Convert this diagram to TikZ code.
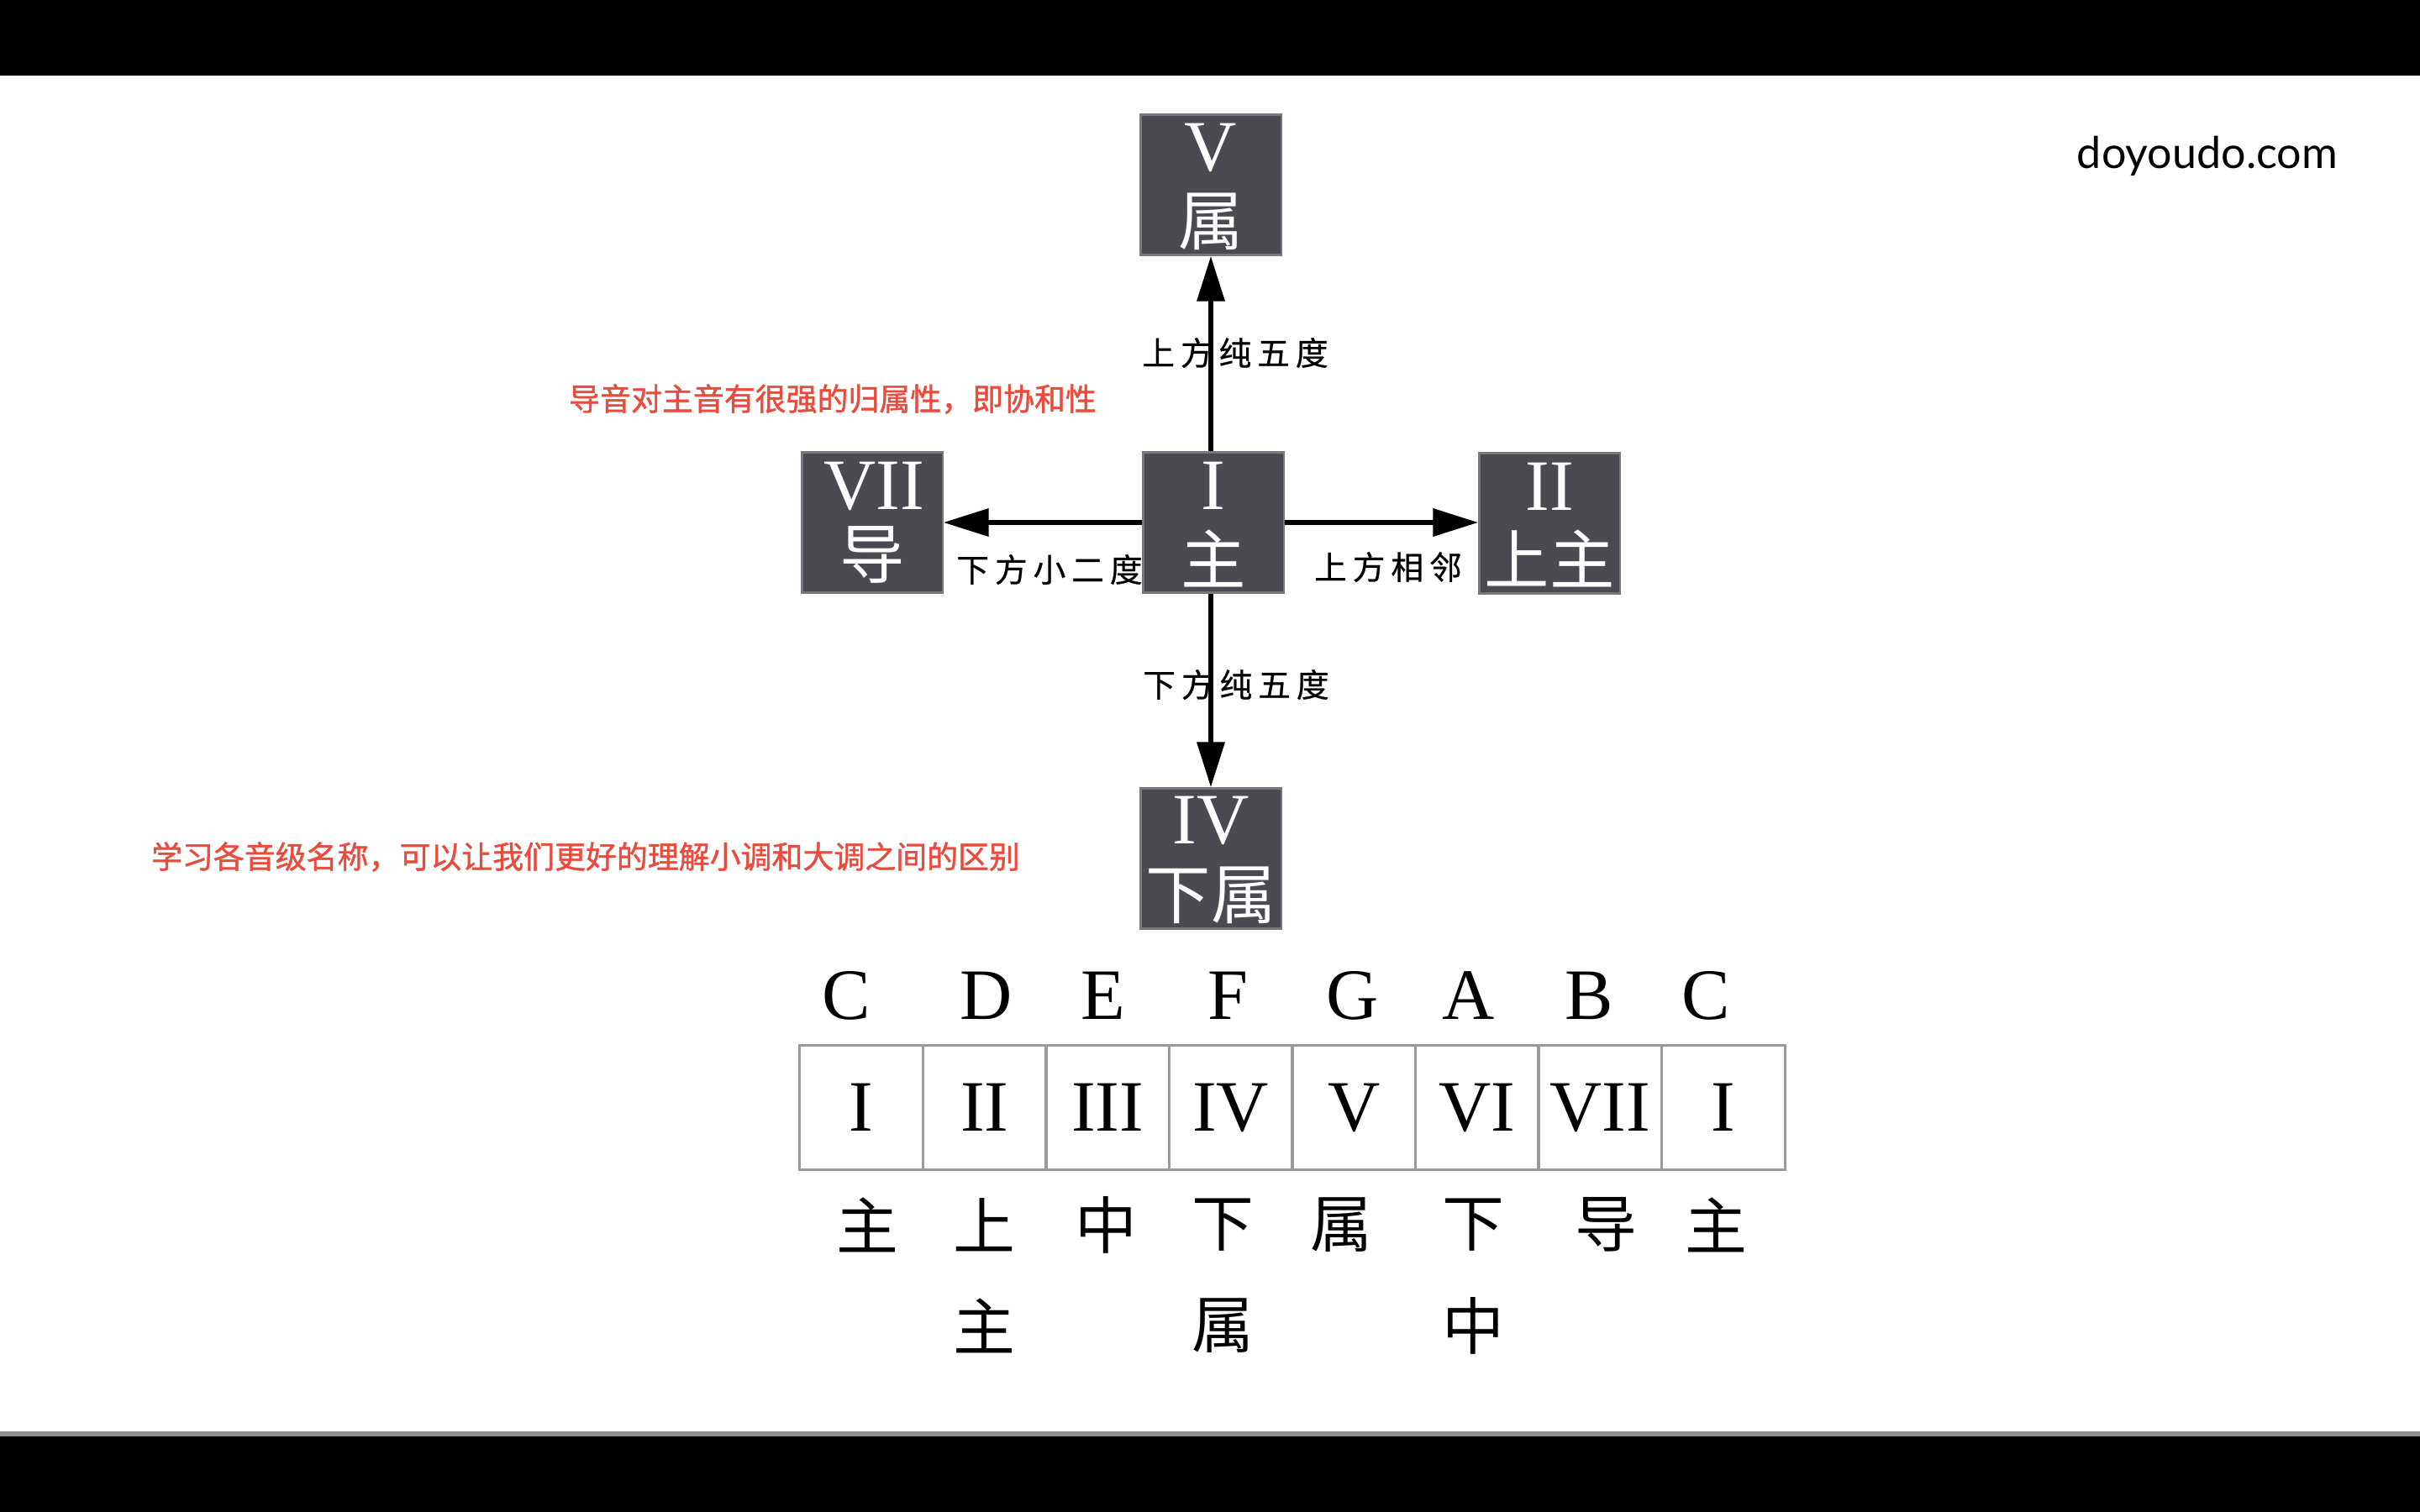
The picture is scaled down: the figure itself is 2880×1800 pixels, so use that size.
\documentclass[tikz,border=0pt]{standalone}
\usepackage{fontspec}
\setmainfont{Liberation Serif}
\newfontfamily\cjk{Noto Sans CJK SC}
\newfontfamily\cjkm[FakeBold=1.2]{Noto Sans CJK SC}
\newfontfamily\cjkls[LetterSpace=18,FakeBold=0.6]{Noto Sans CJK SC}
\newfontfamily\logofont{Lato}
\usetikzlibrary{arrows.meta}
\definecolor{boxgray}{HTML}{4A4B50}
\definecolor{redtxt}{HTML}{E94B3C}
\definecolor{cellline}{HTML}{9A9A9A}
\begin{document}
\begin{tikzpicture}[x=0.01cm,y=-0.01cm,
  deg/.style={rectangle,fill=boxgray,draw=boxgray!75!white,line width=0.6pt,minimum width=1.67cm,minimum height=1.67cm,inner sep=0pt},
  rom/.style={text=white,font=\fontsize{24.5}{24.5}\selectfont,inner sep=0pt},
  romb/.style={text=black,font=\fontsize{24.5}{24.5}\selectfont,inner sep=0pt},
  zh/.style={text=white,font=\cjk\fontsize{22}{22}\selectfont,inner sep=0pt},
  zhb/.style={text=black,font=\cjk\fontsize{21}{21}\selectfont,inner sep=0pt},
  lab/.style={text=black,font=\cjkls\fontsize{11}{11}\selectfont,inner sep=0pt},
  note/.style={text=redtxt,font=\cjkm\fontsize{10.5}{10.5}\selectfont,inner sep=0pt},
  conn/.style={line width=0.065cm,-{Triangle[length=0.54cm,width=0.32cm]}},
  cell/.style={rectangle,draw=cellline,line width=0.03cm,minimum width=1.465cm,minimum height=1.47cm,inner sep=0pt,font=\fontsize{24.5}{24.5}\selectfont}
]
\useasboundingbox (0,0) rectangle (2880,1800);
% frame
\fill[black] (0,0) rectangle (2880,90);
\fill[white] (0,90) rectangle (2880,1704);
\fill[black!45] (0,1704) rectangle (2880,1710);
\fill[black] (0,1710) rectangle (2880,1800);

% logo
\node[font=\logofont\fontsize{14.8}{14.8}\selectfont,inner sep=0pt] (logo) at (2627,186) {doyoudo.com};

% red notes
\node[note] (note1) at (991,475) {导音对主音有很强的归属性，即协和性};
\node[note] (note2) at (697,1020) {学习各音级名称，可以让我们更好的理解小调和大调之间的区别};

% degree boxes
\node[deg] (V) at (1441,220) {};
\node[deg] (I) at (1444,622) {};
\node[deg] (VII) at (1038,622) {};
\node[deg] (II) at (1844,623) {};
\node[deg] (IV) at (1441,1022) {};

\node[rom] (Vr) at (1441,176) {V};
\node[zh] (Vz) at (1441,264) {属};
\node[rom] (Ir) at (1444,578) {I};
\node[zh] (Iz) at (1444,665) {主};
\node[rom] (VIIr) at (1040,579) {VII};
\node[zh] (VIIz) at (1038,660) {导};
\node[rom] (IIr) at (1844,579) {II};
\node[zh] (IIz) at (1844,665) {上主};
\node[rom] (IVr) at (1441,977) {IV};
\node[zh] (IVz) at (1441,1066) {下属};

% connectors
\draw[conn] (I.north -| V) -- (V.south);
\draw[conn] (I.south -| IV) -- (IV.north);
\draw[conn] (I.east) -- (II.west |- I.east);
\draw[conn] (I.west) -- (VII.east |- I.west);

% connector labels
\node[lab] (l1) at (1470,420) {上方纯五度};
\node[lab] (l2) at (1471,815) {下方纯五度};
\node[lab] (l3) at (1249,678) {下方小二度};
\node[lab] (l4) at (1652,675) {上方相邻};

% table of scale degrees
\node[cell] (c1) at (1025.25,1318.5) {I};
\node[cell] (c2) at (1171.75,1318.5) {II};
\node[cell] (c3) at (1318.25,1318.5) {III};
\node[cell] (c4) at (1464.75,1318.5) {IV};
\node[cell] (c5) at (1611.25,1318.5) {V};
\node[cell] (c6) at (1757.75,1318.5) {VI};
\node[cell] (c7) at (1904.25,1318.5) {VII};
\node[cell] (c8) at (2050.75,1318.5) {I};

% note names
\node[romb] (nC) at (1007,1185) {C};
\node[romb] (nD) at (1174,1185) {D};
\node[romb] (nE) at (1313,1185) {E};
\node[romb] (nF) at (1461,1185) {F};
\node[romb] (nG) at (1610,1185) {G};
\node[romb] (nA) at (1748,1185) {A};
\node[romb] (nB) at (1891,1185) {B};
\node[romb] (nC2) at (2030,1185) {C};

% Chinese names
\node[zhb] (z1) at (1032,1458) {主};
\node[zhb] (z2) at (1171,1458) {上};
\node[zhb] (z2b) at (1171,1578) {主};
\node[zhb] (z3) at (1316,1458) {中};
\node[zhb] (z4) at (1455,1458) {下};
\node[zhb] (z4b) at (1455,1578) {属};
\node[zhb] (z5) at (1596,1458) {属};
\node[zhb] (z6) at (1753,1458) {下};
\node[zhb] (z6b) at (1753,1578) {中};
\node[zhb] (z7) at (1911,1458) {导};
\node[zhb] (z8) at (2042,1458) {主};
\end{tikzpicture}
\end{document}
